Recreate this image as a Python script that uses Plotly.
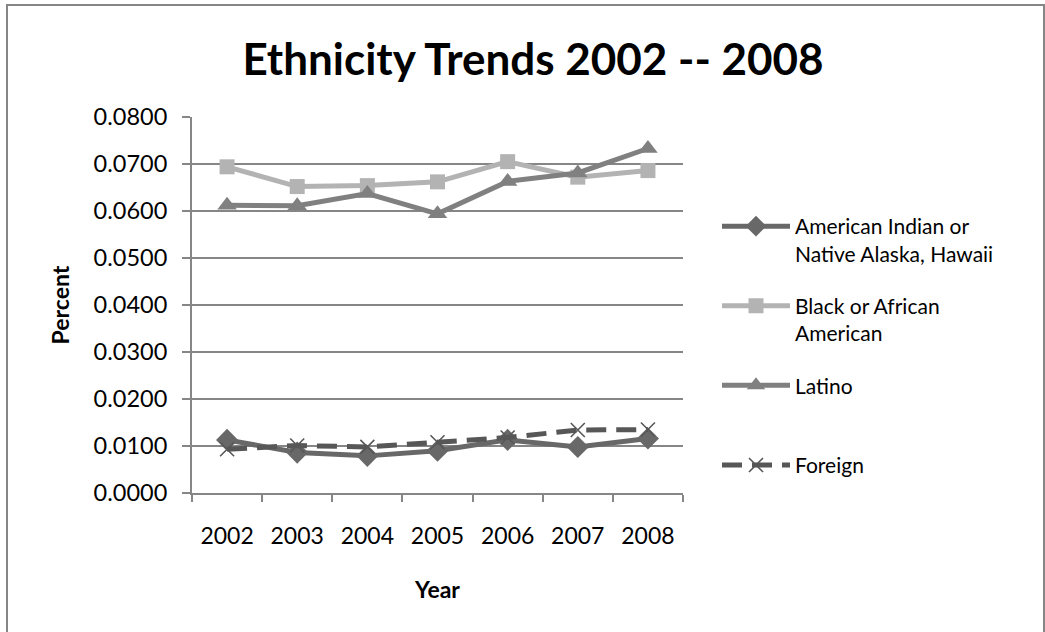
import plotly.graph_objects as go

years = ["2002", "2003", "2004", "2005", "2006", "2007", "2008"]
american_indian = [0.0113, 0.0086, 0.0079, 0.0090, 0.0113, 0.0098, 0.0116]
black = [0.0694, 0.0652, 0.0654, 0.0662, 0.0705, 0.0672, 0.0686]
latino = [0.0612, 0.0611, 0.0637, 0.0594, 0.0663, 0.0681, 0.0733]
foreign = [0.0093, 0.0101, 0.0098, 0.0108, 0.0118, 0.0134, 0.0135]

names = ["American Indian or<br>Native Alaska, Hawaii", "Black or African<br>American",
         "Latino<br> ", "Foreign<br> "]

W, H = 1045, 632
L, R, T, B = 192, 683, 117, 493
FONT = "Lato"

fig = go.Figure()
fig.add_trace(go.Scatter(x=years, y=american_indian, name=names[0], mode="lines+markers",
                         line=dict(color="#686868", width=5),
                         marker=dict(symbol="diamond", size=17, color="#686868"),
                         legendgroup="a"))
fig.add_trace(go.Scatter(x=years, y=black, name=names[1], mode="lines+markers",
                         line=dict(color="#b3b3b3", width=5),
                         marker=dict(symbol="square", size=15, color="#b3b3b3"),
                         legendgroup="b"))
fig.add_trace(go.Scatter(x=years, y=latino, name=names[2], mode="lines+markers",
                         line=dict(color="#808080", width=5),
                         marker=dict(symbol="triangle-up", size=17, color="#808080"),
                         legendgroup="c"))
fig.add_trace(go.Scatter(x=years, y=foreign, name=names[3], mode="lines+markers",
                         line=dict(color="#575757", width=5, dash="20px,10px"),
                         marker=dict(symbol="x-thin-open", size=14,
                                     line=dict(color="#575757", width=1.6)),
                         legendgroup="d"))

pw = R - L
ph = B - T
def px_x(p):
    return (p - L) / pw
def px_y(p):
    return (B - p) / ph

fig.update_layout(
    width=W, height=H,
    margin=dict(l=L, r=W - R, t=T, b=H - B),
    paper_bgcolor="white", plot_bgcolor="white",
    font=dict(family=FONT, color="black", size=23),
    title=dict(text="<b>Ethnicity Trends 2002 -- 2008</b>", x=533 / W, xanchor="center",
               y=1 - 60 / H, yanchor="middle", font=dict(size=44, family=FONT)),
    xaxis=dict(type="category", range=[-0.5, 6.5], showgrid=False,
               showline=True, linecolor="#868686", linewidth=2,
               ticks="outside", tickson="boundaries", ticklen=7, tickwidth=2, tickcolor="#868686",
               ticklabelstandoff=21,
               tickfont=dict(size=23), title=dict(text="<b>Year</b>", font=dict(size=23), standoff=34)),
    yaxis=dict(range=[0, 0.08], dtick=0.01, tickformat=".4f", showgrid=True,
               gridcolor="#868686", gridwidth=1.5, showline=True, linecolor="#868686", linewidth=2,
               ticks="outside", ticklen=8, tickwidth=2, tickcolor="#868686", zeroline=False,
               ticklabelstandoff=10,
               tickfont=dict(size=23.5), title=dict(text="<b>Percent</b>", font=dict(size=23), standoff=18)),
    legend=dict(x=px_x(717), xanchor="left", y=px_y(206), yanchor="top",
                font=dict(size=21, family=FONT), itemwidth=68, valign="top",
                tracegroupgap=22, bgcolor="rgba(0,0,0,0)"),
    shapes=[dict(type="rect", xref="paper", yref="paper",
                 x0=px_x(7), x1=px_x(1044), y0=px_y(640), y1=px_y(5),
                 line=dict(color="#868686", width=2), fillcolor="rgba(0,0,0,0)", layer="below")],
)

fig.write_html("out.html", config={"displayModeBar": False},
               post_script="document.body.style.margin='0';")
